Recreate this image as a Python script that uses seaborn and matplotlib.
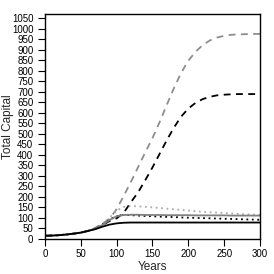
import numpy as np
import pandas as pd
import seaborn as sns
import matplotlib
matplotlib.use("Agg")
import matplotlib.pyplot as plt

# years sampled every 10
years = list(range(0, 301, 10))

early = [15, 16, 18, 21, 25, 30, 38]  # years 0-60, all runs nearly identical

gray_dashed = early + [52, 72, 95, 142, 205, 272, 342, 412, 480, 556, 638, 718, 790,
                       848, 890, 922, 944, 958, 966, 971, 973, 974, 975, 975]
black_dashed = early + [49, 65, 85, 98, 125, 175, 222, 280, 340, 405, 470, 530, 582,
                        620, 647, 665, 676, 683, 686, 688, 689, 689, 689, 689]
gray_dotted = early + [50, 70, 100, 135, 152, 156, 155, 153, 150, 147, 144, 141, 138,
                       135, 132, 129, 127, 125, 123, 121, 119, 117, 116, 114]
black_dotted = early + [49, 68, 92, 108, 114, 113, 111, 109, 108, 106, 105, 104, 102,
                        101, 100, 99, 98, 97, 96, 95, 94, 93, 92, 91]
gray_solid = early + [50, 66, 90, 108, 114, 115, 115, 114, 114, 114, 113, 113, 113,
                      113, 112, 112, 112, 112, 112, 111, 111, 111, 111, 111]
black_solid = early + [46, 58, 68, 74, 77, 78, 78, 78, 78, 78, 78, 78, 78,
                       78, 78, 78, 78, 78, 78, 78, 78, 78, 78, 78]

series = [
    (gray_dashed, "#8e8e8e", (0, (3.8, 3))),
    (black_dashed, "black", (0, (3.8, 3))),
    (gray_dotted, "#aaaaaa", (0, (1, 2))),
    (black_dotted, "black", (0, (1, 2))),
    (gray_solid, "#808080", "-"),
    (black_solid, "black", "-"),
]

sns.set_style("ticks")
plt.rcParams["font.family"] = ["Liberation Sans", "DejaVu Sans"]

fig = plt.figure(figsize=(2.74, 2.74), dpi=100)
ax = fig.add_axes([0.164, 0.128, 0.785, 0.821])

for vals, col, ls in series:
    df = pd.DataFrame({"Years": years, "Capital": vals})
    sns.lineplot(data=df, x="Years", y="Capital", color=col, linestyle=ls,
                 linewidth=1.3, ax=ax)

ax.set_xlim(0, 300)
ax.set_ylim(0, 1070)
ax.set_xticks(range(0, 301, 50))
ax.set_yticks(range(0, 1051, 50))
ax.tick_params(axis="both", labelsize=7, length=5, width=0.8, colors="black", pad=2)
ax.tick_params(axis="y", length=4.8, pad=3.5)
for s in ax.spines.values():
    s.set_linewidth(1.0)
    s.set_color("black")
ax.set_xlabel("Years", fontsize=8.5, labelpad=2)
ax.set_ylabel("Total Capital", fontsize=8.5)
ax.yaxis.set_label_coords(-0.145, 0.5)

fig.savefig("out.png", dpi=100)
